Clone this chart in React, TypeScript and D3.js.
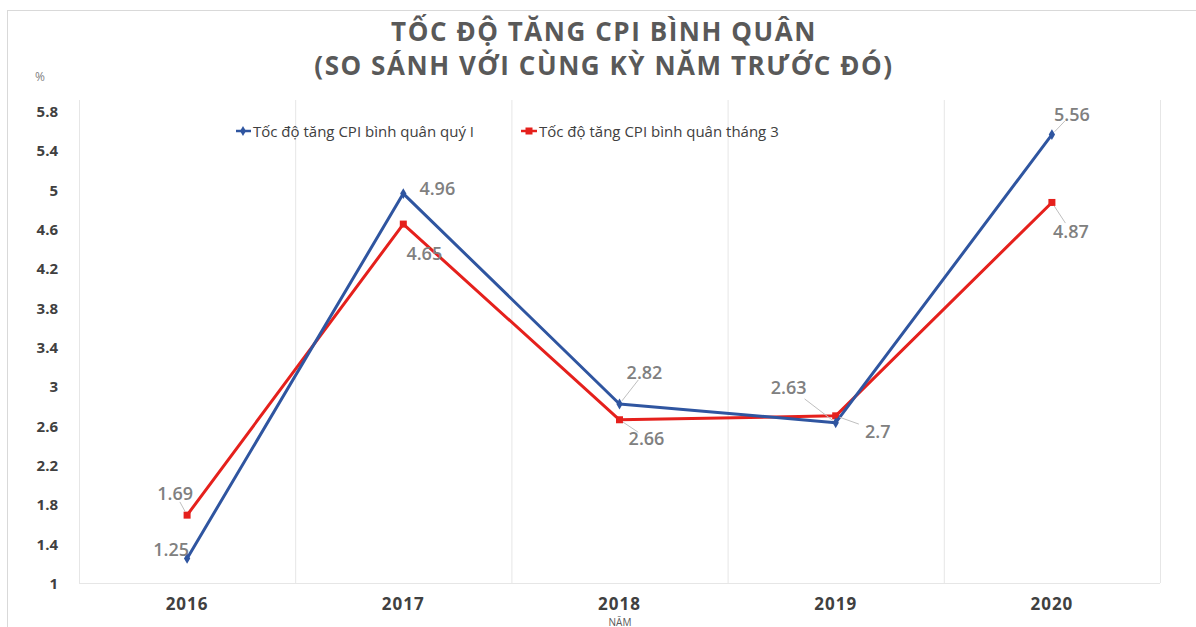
import * as d3 from 'd3';

const YEARS = ['2016', '2017', '2018', '2019', '2020'];
const QUARTER_I = [1.25, 4.96, 2.82, 2.63, 5.56];
const MARCH = [1.69, 4.65, 2.66, 2.7, 4.87];
const Y_TICKS = [1, 1.4, 1.8, 2.2, 2.6, 3, 3.4, 3.8, 4.2, 4.6, 5, 5.4, 5.8];

const SERIES_NAMES = ['Tốc độ tăng CPI bình quân quý I', 'Tốc độ tăng CPI bình quân tháng 3'];
const TITLE = ['TỐC ĐỘ TĂNG CPI BÌNH QUÂN', '(SO SÁNH VỚI CÙNG KỲ NĂM TRƯỚC ĐÓ)'];

// where each data label sits relative to its point (Excel style, with leader lines)
const BLUE_LABELS = [
  { dx: -16, dy: -9, leader: false },
  { dx: 34, dy: -6, leader: false },
  { dx: 25, dy: -32, leader: true },
  { dx: -47, dy: -36, leader: true },
  { dx: 20, dy: -21, leader: true },
];
const RED_LABELS = [
  { dx: -12, dy: -22, leader: true },
  { dx: 21, dy: 29, leader: false },
  { dx: 27, dy: 18, leader: true },
  { dx: 42, dy: 15, leader: true },
  { dx: 19, dy: 29, leader: true },
];

const W = 1196;
const H = 627;
const MARGIN = { top: 100, right: 36, bottom: 44, left: 79 };
const FONT = '"Open Sans", "DejaVu Sans", sans-serif';
const BLUE = '#2f55a0';
const RED = '#e5201c';

export default function App() {
  const x = d3
    .scaleBand()
    .domain(YEARS)
    .range([MARGIN.left, W - MARGIN.right]);
  const y = d3.scaleLinear().domain([1, 5.8]).range([583, 111]);
  const cx = (d: string) => (x(d) as number) + x.bandwidth() / 2;

  const line = d3
    .line<number>()
    .x((_, i) => cx(YEARS[i]))
    .y((d) => y(d));

  const renderLabels = (values: number[], offsets: typeof BLUE_LABELS, key: string) =>
    values.map((v, i) => {
      const px = cx(YEARS[i]);
      const py = y(v);
      const o = offsets[i];
      const lx = px + o.dx;
      const ly = py + o.dy;
      // leader: from near the point towards the label edge
      const len = Math.hypot(o.dx, o.dy);
      const ux = o.dx / len;
      const uy = o.dy / len;
      const back = Math.min(len * 0.45, Math.abs(o.dx) > 30 ? 20 : 10);
      return (
        <g key={key + i}>
          {o.leader && (
            <line
              x1={px + ux * 4}
              y1={py + uy * 4}
              x2={lx - ux * back}
              y2={ly - uy * back}
              stroke="#bfbfbf"
              strokeWidth={1}
            />
          )}
          <text
            x={lx}
            y={ly}
            textAnchor="middle"
            dominantBaseline="central"
            fontSize={18}
            fontWeight={600}
            fill="#808080"
            fontFamily={FONT}
          >
            {v}
          </text>
        </g>
      );
    });

  return (
    <svg width={W} height={H} style={{ position: 'absolute', left: 0, top: 0 }}>
      <rect x={0} y={0} width={W} height={H} fill="#fff" />
      <rect x={7.5} y={10.5} width={W + 20} height={H + 20} fill="none" stroke="#d9d9d9" />

      {TITLE.map((t, i) => (
        <text
          key={t}
          x={604}
          y={31 + i * 34}
          textAnchor="middle"
          dominantBaseline="central"
          fontSize={26}
          fontWeight={700}
          fill="#595959"
          fontFamily={FONT}
          letterSpacing={1.55}
        >
          {t}
        </text>
      ))}

      <text x={40} y={76} textAnchor="middle" dominantBaseline="central" fontSize={12} fill="#7f7f7f" fontFamily={FONT}>
        %
      </text>

      {/* plot frame and vertical gridlines */}
      {YEARS.map((d) => (
        <line
          key={'g' + d}
          x1={(x(d) as number) + 0.5}
          x2={(x(d) as number) + 0.5}
          y1={MARGIN.top}
          y2={583}
          stroke="#e6e6e6"
        />
      ))}
      <line x1={W - MARGIN.right + 0.5} x2={W - MARGIN.right + 0.5} y1={MARGIN.top} y2={583} stroke="#e6e6e6" />
      <line x1={MARGIN.left} x2={W - MARGIN.right} y1={583.5} y2={583.5} stroke="#e6e6e6" />

      {Y_TICKS.map((t) => (
        <text
          key={'y' + t}
          x={58}
          y={y(t)}
          textAnchor="end"
          dominantBaseline="central"
          fontSize={15}
          fontWeight={700}
          fill="#404040"
          fontFamily={FONT}
        >
          {t}
        </text>
      ))}

      {YEARS.map((d) => (
        <text
          key={'x' + d}
          x={cx(d)}
          y={603}
          textAnchor="middle"
          dominantBaseline="central"
          fontSize={17}
          fontWeight={700}
          fill="#404040"
          fontFamily={FONT}
          letterSpacing={1}
        >
          {d}
        </text>
      ))}
      <text x={620} y={621.5} textAnchor="middle" dominantBaseline="central" fontSize={10} fill="#595959" fontFamily={FONT}>
        NĂM
      </text>

      {/* legend */}
      <g fontFamily={FONT} fontSize={15} fill="#404040">
        <line x1={236} x2={251} y1={131} y2={131} stroke={BLUE} strokeWidth={2.5} />
        <path d={d3.symbol(d3.symbolDiamond, 30)() as string} transform="translate(243,131)" fill={BLUE} />
        <text x={253} y={131} dominantBaseline="central">{SERIES_NAMES[0]}</text>
        <line x1={521} x2={537} y1={131} y2={131} stroke={RED} strokeWidth={2.5} />
        <rect x={525.5} y={127.5} width={7} height={7} fill={RED} />
        <text x={539} y={131} dominantBaseline="central">{SERIES_NAMES[1]}</text>
      </g>

      {/* series */}
      <path d={line(MARCH) as string} fill="none" stroke={RED} strokeWidth={3} strokeLinejoin="round" />
      {MARCH.map((v, i) => (
        <rect key={'r' + i} x={cx(YEARS[i]) - 3.5} y={y(v) - 3.5} width={7} height={7} fill={RED} />
      ))}
      <path d={line(QUARTER_I) as string} fill="none" stroke={BLUE} strokeWidth={3} strokeLinejoin="round" />
      {QUARTER_I.map((v, i) => (
        <path
          key={'b' + i}
          d={d3.symbol(d3.symbolDiamond, 34)() as string}
          transform={`translate(${cx(YEARS[i])},${y(v)})`}
          fill={BLUE}
        />
      ))}

      {renderLabels(QUARTER_I, BLUE_LABELS, 'bl')}
      {renderLabels(MARCH, RED_LABELS, 'rl')}
    </svg>
  );
}
